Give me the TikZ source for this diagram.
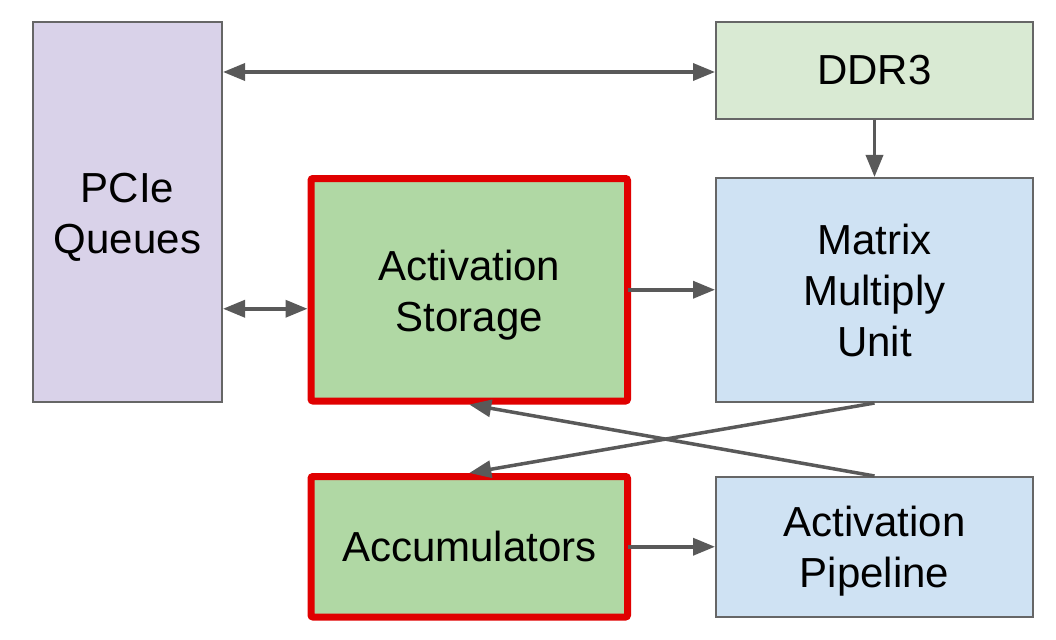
\documentclass[tikz,border=0pt]{standalone}
\usepackage{fontspec}
\setmainfont{Liberation Sans}
\usetikzlibrary{arrows.meta}
\definecolor{purplefill}{HTML}{D9D2E9}
\definecolor{lgreenfill}{HTML}{D9EAD3}
\definecolor{bluefill}{HTML}{CFE2F3}
\definecolor{greenfill}{HTML}{B0D8A4}
\definecolor{redborder}{HTML}{E00000}
\definecolor{grayborder}{HTML}{666666}
\definecolor{arrowgray}{HTML}{595959}
\tikzset{
  box/.style={rectangle, draw=grayborder, line width=2pt, align=center,
    font=\fontsize{42}{51}\selectfont, inner sep=0pt},
  hlbox/.style={rectangle, draw=redborder, line width=7pt, rounded corners=2pt,
    fill=greenfill, align=center, font=\fontsize{42}{51}\selectfont, inner sep=0pt},
  label text/.style={align=center, font=\fontsize{42}{51}\selectfont, inner sep=0pt},
  conn/.style={draw=arrowgray, line width=3.5pt, -{Triangle[length=22pt,width=17pt]}},
  dconn/.style={draw=arrowgray, line width=3.5pt, {Triangle[length=22pt,width=17pt]}-{Triangle[length=22pt,width=17pt]}}
}
\begin{document}
\begin{tikzpicture}[x=1pt,y=-1pt]
\useasboundingbox (0,0) rectangle (1056,639);
\node[box, fill=purplefill, minimum width=189pt, minimum height=380pt] (pcie) at (127.5,212) {};
\node[label text] (pcie-t) at ([yshift=-5pt]pcie.center) {PCIe\\Queues};
\node[box, fill=lgreenfill, minimum width=317pt, minimum height=97pt] (ddr) at (874.5,70.5) {DDR3};
\node[box, fill=bluefill, minimum width=317pt, minimum height=224pt] (mmu) at (874.5,290) {Matrix\\Multiply\\Unit};
\node[hlbox, minimum width=316.5pt, minimum height=222.5pt] (as) at (469.25,289.75) {};
\node[label text] (as-t) at ([yshift=-5.5pt]as.center) {Activation\\Storage};
\node[hlbox, minimum width=316.5pt, minimum height=140.5pt] (acc) at (469.25,546.75) {Accumulators};
\node[box, fill=bluefill, minimum width=317pt, minimum height=140pt] (ap) at (874.5,547) {};
\node[label text] (ap-t) at ([yshift=-4pt]ap.center) {Activation\\Pipeline};
\draw[dconn] ([yshift=-1.5pt]pcie.east |- ddr.west) -- ([yshift=-1.5pt]ddr.west);
\draw[dconn] ([yshift=-19pt]as.west -| pcie.east) -- ([yshift=-19pt]as.west);
\draw[conn] ([xshift=-3.5pt]as.east) -- (as.east -| mmu.west);
\draw[conn] (ddr.south) -- (mmu.north);
\draw[conn] (mmu.south) -- (acc.north);
\draw[conn] (ap.north) -- (as.south);
\draw[conn] ([xshift=-3.5pt]acc.east) -- (acc.east -| ap.west);
\end{tikzpicture}
\end{document}
